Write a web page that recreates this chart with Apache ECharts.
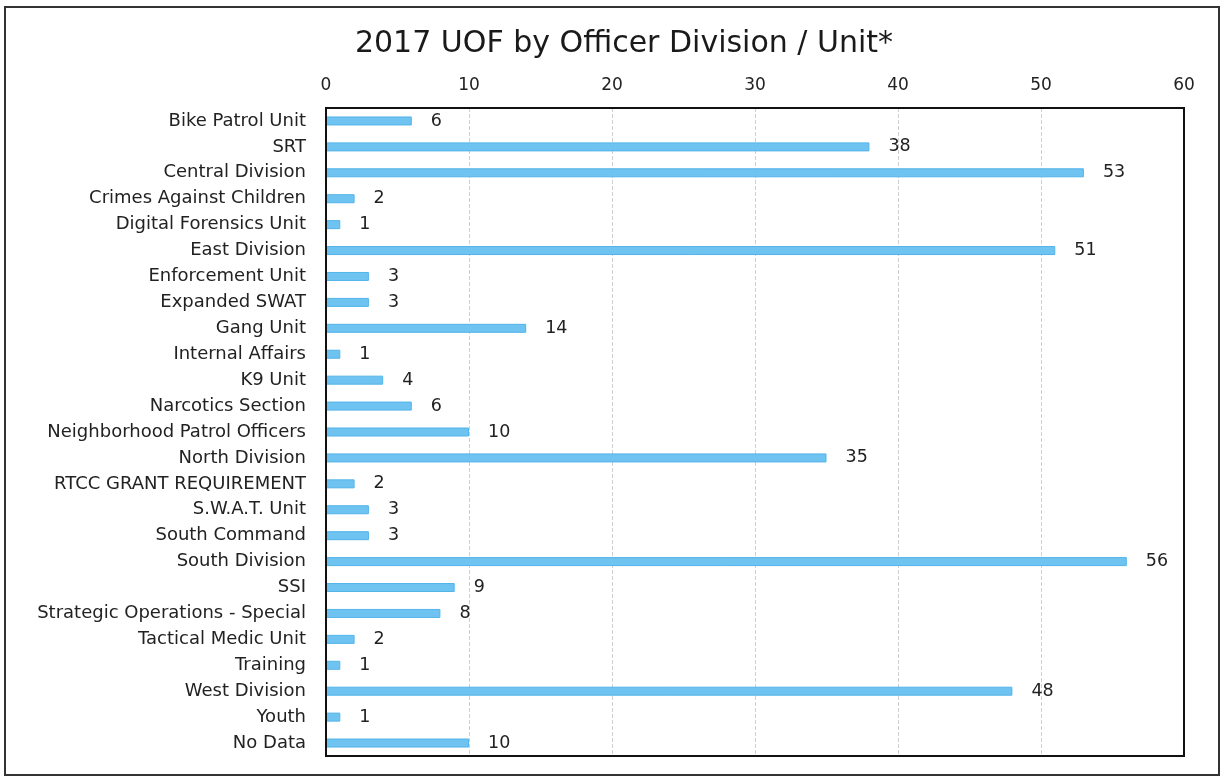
<!DOCTYPE html>
<html>
<head>
<meta charset="utf-8">
<script src="https://cdn.jsdelivr.net/npm/echarts@6/dist/echarts.min.js"></script>
<style>
  html, body { margin: 0; padding: 0; background: #fff; }
  #main { width: 1223px; height: 777px; }
</style>
</head>
<body>
<div id="main"></div>
<script>
// categories top to bottom as in the picture
var units = ['Bike Patrol Unit', 'SRT', 'Central Division', 'Crimes Against Children',
    'Digital Forensics Unit', 'East Division', 'Enforcement Unit', 'Expanded SWAT',
    'Gang Unit', 'Internal Affairs', 'K9 Unit', 'Narcotics Section',
    'Neighborhood Patrol Officers', 'North Division', 'RTCC GRANT REQUIREMENT',
    'S.W.A.T. Unit', 'South Command', 'South Division', 'SSI',
    'Strategic Operations - Special', 'Tactical Medic Unit', 'Training',
    'West Division', 'Youth', 'No Data'];
var counts = [6, 38, 53, 2, 1, 51, 3, 3, 14, 1, 4, 6, 10, 35, 2, 3, 3, 56, 9, 8, 2, 1, 48, 1, 10];

var chart = echarts.init(document.getElementById('main'));
// wide face: the scanned original is stretched sideways
var fontName = '"DejaVu Sans", "Open Sans", sans-serif';

var option = {
    backgroundColor: '#fff',
    animation: false,
    title: {
        text: '2017 UOF by Officer Division / Unit*',
        left: 619,
        top: 24,
        textAlign: 'center',
        textStyle: { fontFamily: fontName, fontSize: 30, fontWeight: 'normal', color: '#1a1a1a' }
    },
    grid: { left: 326, right: 39, top: 108, bottom: 21, containLabel: false },
    xAxis: {
        type: 'value',
        position: 'top',
        min: 0,
        max: 60,
        interval: 10,
        axisLine: { show: false },
        axisTick: { show: false },
        axisLabel: { margin: 14, fontFamily: fontName, fontSize: 17, color: '#222' },
        splitLine: { show: true, lineStyle: { color: '#d0d0d0', type: 'dashed', width: 1 } }
    },
    yAxis: {
        type: 'category',
        data: units,
        inverse: true,
        axisLine: { show: true, lineStyle: { color: '#111', width: 2 } },
        axisTick: { show: false },
        axisLabel: { margin: 20, fontFamily: fontName, fontSize: 18, color: '#222' }
    },
    series: [{
        type: 'bar',
        data: counts,
        barWidth: 9,
        itemStyle: { color: '#6fc3f0', borderColor: '#52b4ea', borderWidth: 1 },
        label: {
            show: true,
            position: 'right',
            distance: 19,
            fontFamily: fontName,
            fontSize: 17.5,
            color: '#222'
        }
    }]
};
chart.setOption(option);

// outer frame and box around plot area
var g = chart.getModel().getComponent('grid').coordinateSystem.getRect();
chart.setOption({
    graphic: [{
        type: 'rect',
        shape: { x: 5, y: 7, width: 1214, height: 768 },
        style: { fill: 'none', stroke: '#333', lineWidth: 2 },
        z: -1
    }, {
        type: 'rect',
        shape: { x: g.x, y: g.y, width: g.width, height: g.height },
        style: { fill: 'none', stroke: '#111', lineWidth: 2 },
        z: 10
    }]
});
</script>
</body>
</html>
